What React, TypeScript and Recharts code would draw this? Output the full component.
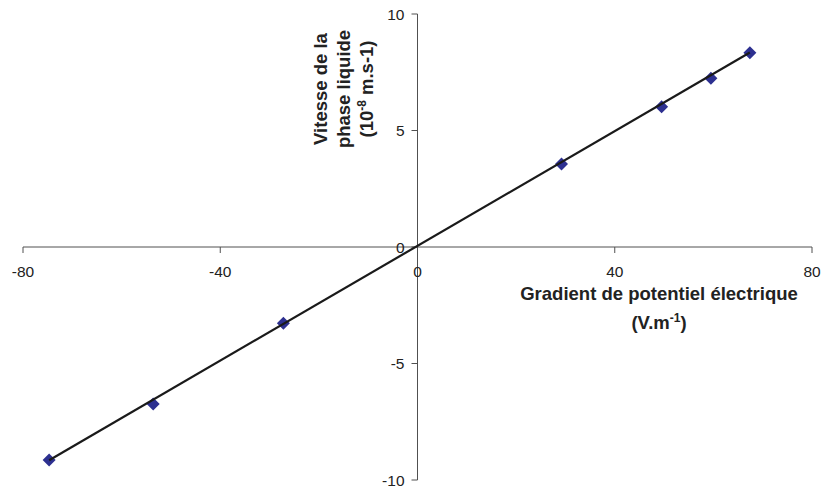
import React from 'react';
import { ScatterChart, Scatter, XAxis, YAxis, ReferenceLine, ReferenceDot } from 'recharts';

// measured points: electric potential gradient (V/m) vs liquid phase velocity (1e-8 m/s)
const gradient = [-74.7, -53.6, -27.2, 29.2, 49.5, 59.5, 67.4];
const velocity = [-9.14, -6.74, -3.27, 3.56, 6.02, 7.24, 8.34];

// linear trendline, read at both ends of the data range
const trendX = [-74.7, 67.4];
const trendY = [-9.15, 8.35];

const xTicks = [-80, -40, 0, 40, 80];
const yTicks = [-10, -5, 0, 5, 10];

const FONT = '"Liberation Sans", Arial, sans-serif';
const AXIS = '#505050';

const points = gradient.map((x, i) => ({ x, y: velocity[i] }));
const trend = trendX.map((x, i) => ({ x, y: trendY[i] }));

const Diamond = (props: any) => {
  const { cx, cy } = props;
  const r = 6.5;
  return (
    <polygon
      points={`${cx},${cy - r} ${cx + r},${cy} ${cx},${cy + r} ${cx - r},${cy}`}
      fill="#2d3090"
    />
  );
};

const XTick = (value: number) => (props: any) => {
  const { x, y } = props.viewBox;
  return (
    <g>
      <line x1={x} y1={y} x2={x} y2={y + 6} stroke={AXIS} strokeWidth={1} />
      <text x={x} y={y + 30} textAnchor="middle" fontSize={15.5} fontFamily={FONT} fill="#222">
        {value}
      </text>
    </g>
  );
};

const YTick = (value: number) => (props: any) => {
  const { x, y } = props.viewBox;
  return (
    <g>
      <line x1={x - 6} y1={y} x2={x} y2={y} stroke={AXIS} strokeWidth={1} />
      <text x={x - 13} y={y + 5.5} textAnchor="end" fontSize={15.5} fontFamily={FONT} fill="#222">
        {value}
      </text>
    </g>
  );
};

export default function App() {
  return (
    <div style={{ position: 'absolute', left: 0, top: 0, width: 824, height: 495, background: '#fff' }}>
      <ScatterChart width={824} height={495} margin={{ top: 14, right: 12, bottom: 15, left: 23 }}>
        <XAxis type="number" dataKey="x" domain={[-80, 80]} ticks={xTicks} hide />
        <YAxis type="number" dataKey="y" domain={[-10, 10]} ticks={yTicks} hide />
        <ReferenceLine y={0} stroke={AXIS} strokeWidth={1} />
        <ReferenceLine x={0} stroke={AXIS} strokeWidth={1} />
        {xTicks.map((t) => (
          <ReferenceDot key={'x' + t} x={t} y={0} r={0} fill="none" stroke="none" label={{ content: XTick(t) }} />
        ))}
        {yTicks.map((t) => (
          <ReferenceDot key={'y' + t} x={0} y={t} r={0} fill="none" stroke="none" label={{ content: YTick(t) }} />
        ))}
        <Scatter data={points} shape={Diamond} isAnimationActive={false} />
        <Scatter
          data={trend}
          line={{ stroke: '#1a1a1a', strokeWidth: 2.2 }}
          shape={() => <g />}
          isAnimationActive={false}
        />
      </ScatterChart>
      <svg
        width={824}
        height={495}
        style={{ position: 'absolute', left: 0, top: 0, pointerEvents: 'none' }}
        fontFamily={FONT}
        fontWeight="bold"
        fontSize={18.5}
        fill="#222"
      >
        <text x={659} y={300} textAnchor="middle">Gradient de potentiel électrique</text>
        <text x={659} y={329} textAnchor="middle">
          (V.m<tspan fontSize={12} dy={-7}>-1</tspan>
          <tspan dy={7}>)</tspan>
        </text>
        <g textAnchor="middle">
          <text x={327} y={89} transform="rotate(-90 327 89)">Vitesse de la</text>
          <text x={350} y={89} transform="rotate(-90 350 89)">phase liquide</text>
          <text x={373} y={89} transform="rotate(-90 373 89)">
            (10<tspan fontSize={12} dy={-7}>-8</tspan>
            <tspan dy={7}> m.s-1)</tspan>
          </text>
        </g>
      </svg>
    </div>
  );
}
